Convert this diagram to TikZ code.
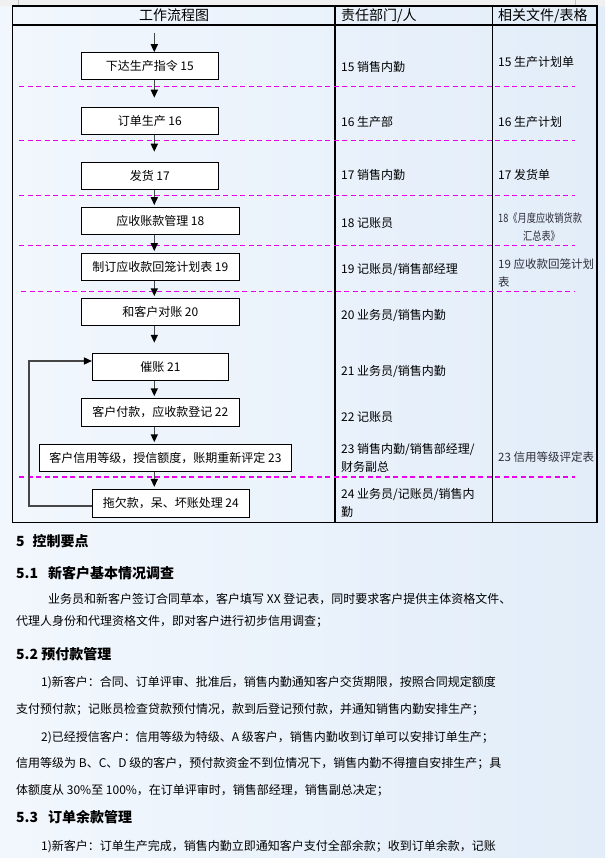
\documentclass[tikz,border=0pt]{standalone}
\usepackage{fontspec}
\setmainfont{Noto Sans CJK SC}
\usetikzlibrary{arrows.meta}
\definecolor{bgleft}{RGB}{242,247,253}
\definecolor{bgright}{RGB}{226,237,249}
\definecolor{sepcol}{RGB}{235,0,235}
\definecolor{shaftcol}{RGB}{70,70,70}
\definecolor{doccol}{RGB}{45,45,55}
\definecolor{barcol}{RGB}{240,240,240}
\newcommand{\hdfont}{\fontsize{14}{16}\selectfont}
\newcommand{\bxfont}{\fontsize{12}{14}\selectfont}
\newcommand{\secfont}{\fontsize{14}{16}\selectfont\bfseries}

\begin{document}
\begin{tikzpicture}[x=1pt,y=-1pt,
  >={Triangle[width=7pt,length=8pt,black]},
  stepbox/.style={draw=black,line width=1.1pt,fill=white,minimum height=27pt,inner sep=0pt,font=\bxfont},
  flow/.style={->,line width=1.5pt,draw=shaftcol},
  grid/.style={draw=black,line width=1.3pt},
  sep/.style={draw=sepcol,line width=1.4pt,dash pattern=on 5pt off 3.5pt},
  cell/.style={anchor=west,inner sep=0pt,font=\bxfont},
  doc/.style={anchor=west,inner sep=0pt,font=\fontsize{11.5}{14}\selectfont,text=doccol},
  para/.style={anchor=west,inner sep=0pt,font=\bxfont},
  sec/.style={anchor=west,inner sep=0pt,font=\secfont},
]
\useasboundingbox (0,0) rectangle (605,858);
% --- page background ---
\fill[left color=bgleft,right color=bgright] (0,0) rectangle (605,858);
\fill[barcol] (0,0) rectangle (605,6);
\draw[gray!50] (18.3,0) -- (18.3,6);
\draw[gray!50] (575,0) -- (575,6);

% --- table frame ---
\draw[grid] (12.5,6) rectangle (597,522.3);
\draw[grid] (12.5,25) -- (597,25);
\draw[grid] (335,6) -- (335,522.3);
\draw[grid] (492.5,6) -- (492.5,522.3);
\node[font=\hdfont,inner sep=0pt] (hflow) at (174,15.5) {工作流程图};
\node[cell,font=\hdfont] (hduty) at (341,15.5) {责任部门/人};
\node[cell,font=\hdfont] (hfile) at (498,15.5) {相关文件/表格};

% --- row separators ---
\foreach \y in {86.5,140.5,195.5,245.5,477}
  \draw[sep] (19,\y) -- (575,\y);
\draw[sep] (21,291.5) -- (575,291.5);

% --- work flow ---
\node[stepbox,minimum width=137pt] (b15) at (149.8,66.3) {下达生产指令 15};
\node[stepbox,minimum width=137pt] (b16) at (149.8,120.8) {订单生产 16};
\node[stepbox,minimum width=137pt] (b17) at (149.8,175.8) {发货 17};
\node[stepbox,minimum width=158pt] (b18) at (160.3,220.7) {应收账款管理 18};
\node[stepbox,minimum width=158pt] (b19) at (160.3,266.7) {制订应收款回笼计划表 19};
\node[stepbox,minimum width=158pt] (b20) at (160.3,311.8) {和客户对账 20};
\node[stepbox,minimum width=136pt] (b21) at (160.5,366.8) {催账 21};
\node[stepbox,minimum width=158pt,minimum height=28pt] (b22) at (160.3,412.3) {客户付款，应收款登记 22};
\node[stepbox,minimum width=252pt] (b23) at (165.5,457.8) {客户信用等级，授信额度，账期重新评定 23};
\node[stepbox,minimum width=157pt,minimum height=28pt] (b24) at (170.8,503.3) {拖欠款，呆、坏账处理 24};

\coordinate (ax) at (154.3,0);
\coordinate (entry) at (154.3,33);
\draw[flow] (entry) -- (b15.north -| ax);
\foreach \a/\b/\g in {15/16/9,16/17/10,17/18/1.5,18/19/1.5,19/20/1.5,20/21/10,21/22/1.5,22/23/1.5,23/24/1.8}
  \draw[flow,shorten >=\g pt] (b\a.south -| ax) -- (b\b.north -| ax);
% loop back to dunning
\draw[flow] ([yshift=-2.7pt]b24.west) -- ++(-63pt,0) |- ([yshift=5.8pt]b21.west);

% --- responsible persons ---
\foreach \n/\y/\t in {15/67/{15 销售内勤},16/122/{16 生产部},17/175/{17 销售内勤},18/223/{18 记账员},
    19/270/{19 记账员/销售部经理},20/316/{20 业务员/销售内勤},21/372/{21 业务员/销售内勤},22/417/{22 记账员}}
  \node[cell] (duty\n) at (341,\y) {\t};
\node[cell,align=left,font=\fontsize{12}{18}\selectfont] (duty23) at (341,458) {23 销售内勤/销售部经理/\\财务副总};
\node[cell,align=left,font=\fontsize{12}{18}\selectfont] (duty24) at (341,503) {24 业务员/记账员/销售内\\勤};

% --- related documents ---
\node[cell] (file15) at (498,62) {15 生产计划单};
\node[cell] (file16) at (498,122) {16 生产计划};
\node[cell] (file17) at (498,175) {17 发货单};
\node[doc] (file18) at (498,218) {\scalebox{0.8}[1]{18《月度应收销货款}};
\node[doc,anchor=center] (file18b) at (541.5,236) {\scalebox{0.8}[1]{汇总表》}};
\node[doc] (file19) at (498,264) {19 应收款回笼计划};
\node[doc] (file19b) at (498,282) {表};
\node[doc] (file23) at (498,457) {23 信用等级评定表};

% --- control points ---
\node[sec] (s5) at (16,540.7) {5\hspace{8pt}控制要点};
\node[sec] (s51) at (16,573) {5.1\hspace{10pt}新客户基本情况调查};
\node[para] (p1) at (48,599) {业务员和新客户签订合同草本，客户填写 XX 登记表，同时要求客户提供主体资格文件、};
\node[para] (p2) at (16,621) {代理人身份和代理资格文件，即对客户进行初步信用调查；};
\node[sec] (s52) at (16,654) {5.2 预付款管理};
\node[para] (p3) at (41,683) {1)新客户：合同、订单评审、批准后，销售内勤通知客户交货期限，按照合同规定额度};
\node[para] (p4) at (16,709) {支付预付款；记账员检查贷款预付情况，款到后登记预付款，并通知销售内勤安排生产；};
\node[para] (p5) at (41,737.7) {2)已经授信客户：信用等级为特级、A 级客户，销售内勤收到订单可以安排订单生产；};
\node[para] (p6) at (16,763) {信用等级为 B、C、D 级的客户，预付款资金不到位情况下，销售内勤不得擅自安排生产；具};
\node[para] (p7) at (16,790) {体额度从 30\%至 100\%，在订单评审时，销售部经理，销售副总决定；};
\node[sec] (s53) at (16,817) {5.3\hspace{10pt}订单余款管理};
\node[para] (p8) at (41,847) {1)新客户：订单生产完成，销售内勤立即通知客户支付全部余款；收到订单余款，记账};
\end{tikzpicture}
\end{document}
